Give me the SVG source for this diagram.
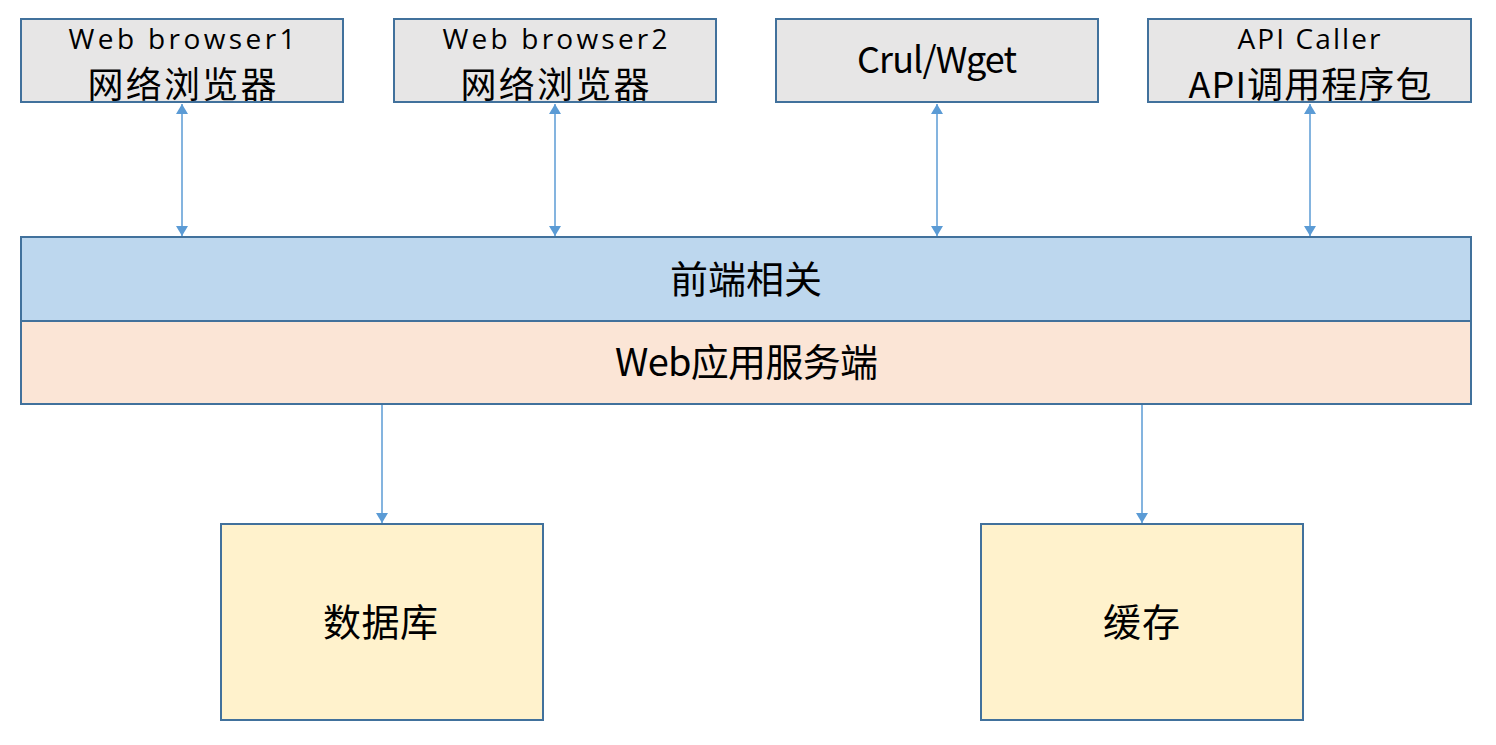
<svg xmlns="http://www.w3.org/2000/svg" width="1496" height="745" viewBox="0 0 1496 745">
<style>
.box{stroke:#41719C;stroke-width:2}
.gray{fill:#E7E6E6}
.blue{fill:#BDD7EE}
.peach{fill:#FBE5D6}
.yellow{fill:#FFF2CC}
.t{font-family:"Noto Sans CJK SC","Liberation Sans",sans-serif;fill:#000;text-anchor:middle}
.lat{font-family:"Open Sans","Noto Sans CJK SC",sans-serif;font-size:28px}
.cjk{font-size:38px}
.cjk2{font-size:36px}
.conn{stroke:#5B9BD5;stroke-width:1.5;fill:none}
</style>
<defs>
<marker id="ah" viewBox="0 0 10 12" refX="10" refY="6" markerWidth="10" markerHeight="12" markerUnits="userSpaceOnUse" orient="auto-start-reverse">
<path d="M0,0 L10,6 L0,12 z" fill="#5B9BD5"/>
</marker>
</defs>
<rect width="1496" height="745" fill="#fff"/>
<g id="connectors">
<line class="conn" x1="182" y1="104" x2="182" y2="236" marker-start="url(#ah)" marker-end="url(#ah)"/>
<line class="conn" x1="555" y1="104" x2="555" y2="236" marker-start="url(#ah)" marker-end="url(#ah)"/>
<line class="conn" x1="937" y1="104" x2="937" y2="236" marker-start="url(#ah)" marker-end="url(#ah)"/>
<line class="conn" x1="1310" y1="104" x2="1310" y2="236" marker-start="url(#ah)" marker-end="url(#ah)"/>
<line class="conn" x1="382" y1="405" x2="382" y2="523" marker-end="url(#ah)"/>
<line class="conn" x1="1142" y1="405" x2="1142" y2="523" marker-end="url(#ah)"/>
</g>
<g id="browser1">
<rect class="box gray" x="21" y="19" width="322" height="83"/>
<text class="t lat" x="182" y="49" textLength="227">Web browser1</text>
<text class="t cjk2" x="182" y="98" textLength="189">网络浏览器</text>
</g>
<g id="browser2">
<rect class="box gray" x="394" y="19" width="322" height="83"/>
<text class="t lat" x="555" y="49" textLength="225">Web browser2</text>
<text class="t cjk2" x="555" y="98" textLength="189">网络浏览器</text>
</g>
<g id="crul">
<rect class="box gray" x="776" y="19" width="322" height="83"/>
<text class="t" style="font-size:36px" x="937" y="73" textLength="160">Crul/Wget</text>
</g>
<g id="apicaller">
<rect class="box gray" x="1148" y="19" width="323" height="83"/>
<text class="t lat" x="1309" y="49" textLength="143">API Caller</text>
<text class="t cjk2" x="1310" y="98" textLength="243">API调用程序包</text>
</g>
<g id="frontend">
<rect class="box blue" x="21" y="237" width="1450" height="84"/>
<text class="t cjk" x="746" y="293" textLength="152">前端相关</text>
</g>
<g id="webserver">
<rect class="box peach" x="21" y="321" width="1450" height="83"/>
<text class="t cjk" x="746.5" y="376" textLength="263">Web应用服务端</text>
</g>
<g id="database">
<rect class="box yellow" x="221" y="524" width="322" height="196"/>
<text class="t cjk" x="380.5" y="636" textLength="115">数据库</text>
</g>
<g id="cache">
<rect class="box yellow" x="981" y="524" width="322" height="196"/>
<text class="t cjk" x="1141.5" y="636" textLength="77">缓存</text>
</g>
</svg>
